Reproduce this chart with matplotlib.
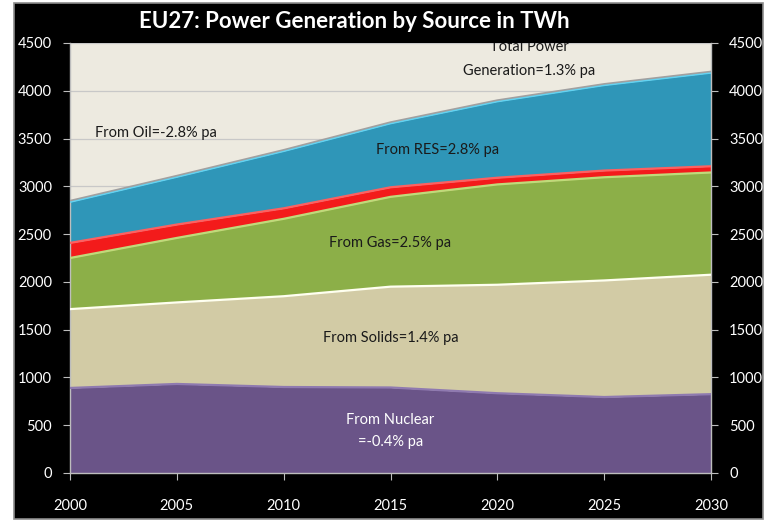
import matplotlib
matplotlib.use('Agg')
import matplotlib.pyplot as plt
import matplotlib.patches as mpatches
import numpy as np

# DATA (TWh)
years = [2000, 2005, 2010, 2015, 2020, 2025, 2030]
nuclear = [890, 932, 900, 895, 835, 795, 825]
solids = [825, 853, 950, 1055, 1135, 1220, 1250]
gas = [535, 675, 810, 940, 1050, 1080, 1070]
oil = [158, 140, 110, 100, 70, 70, 65]
res = [430, 500, 600, 670, 800, 895, 980]
yticks = [0, 500, 1000, 1500, 2000, 2500, 3000, 3500, 4000, 4500]

plt.rcParams['font.family'] = ['Lato', 'DejaVu Sans']

fig = plt.figure(figsize=(7.69, 5.26), dpi=100, facecolor='white')
fig.patches.append(mpatches.Rectangle((14 / 769, 1 - 519 / 526), 749 / 769, 516 / 526,
                                      transform=fig.transFigure, facecolor='black',
                                      edgecolor='#8C8C8C', linewidth=1.2, zorder=-5))

ax = fig.add_axes([70 / 769, 1 - 473 / 526, 641 / 769, 430 / 526])
ax.set_facecolor('#EDEAE0')

fills = ['#6A5488', '#D2CBA5', '#8CAF48', '#F31B1B', '#2F96B8']
edges = ['#8F7AB0', '#FFFFF0', '#BFDB7A', '#FF6060', '#63D3F2']
series = [nuclear, solids, gas, oil, res]

bottom = np.zeros(len(years))
for vals, fc, ec in zip(series, fills, edges):
    top = bottom + np.array(vals)
    ax.fill_between(years, bottom, top, color=fc, linewidth=0, zorder=2)
    ax.plot(years, top, color=ec, linewidth=1.6, zorder=3)
    bottom = top
ax.plot(years, bottom + 12, color='#A0A0A0', linewidth=1.2, zorder=3)

ax.set_xlim(2000, 2030)
ax.set_ylim(0, 4500)
ax.set_xticks(years)
ax.set_yticks(yticks)
ax.yaxis.grid(True, color='#C8C8C8', linewidth=0.9, zorder=1)
ax.set_axisbelow(True)

ax.spines['top'].set_visible(False)
for s in ['left', 'bottom', 'right']:
    ax.spines[s].set_color('#BDBDBD')
    ax.spines[s].set_linewidth(1.0)

ax.tick_params(axis='both', colors='#BDBDBD', labelcolor='white', labelsize=10.5,
               direction='out', length=5)
ax.tick_params(axis='y', left=True, right=True, labelleft=True, labelright=True, pad=8)
ax.tick_params(axis='x', pad=14)

# Labels inside the areas
tc = '#1A1A1A'
fs = 10.5
ax.text(2004.0, 3560, 'From Oil=-2.8% pa', fontsize=fs, color=tc, ha='center', va='center', zorder=5)
ax.text(2021.5, 4335, 'Total Power\nGeneration=1.3% pa', fontsize=fs, color=tc,
        ha='center', va='center', linespacing=1.95, zorder=5, clip_on=True)
ax.text(2017.2, 3382, 'From RES=2.8% pa', fontsize=fs, color=tc, ha='center', va='center', zorder=5)
ax.text(2015.0, 2408, 'From Gas=2.5% pa', fontsize=fs, color=tc, ha='center', va='center', zorder=5)
ax.text(2015.0, 1413, 'From Solids=1.4% pa', fontsize=fs, color=tc, ha='center', va='center', zorder=5)
ax.text(2015.0, 440, 'From Nuclear\n=-0.4% pa', fontsize=fs, color='white',
        ha='center', va='center', linespacing=1.8, zorder=5)

fig.text(354 / 769, 1 - 21 / 526, 'EU27: Power Generation by Source in TWh',
         fontsize=16, fontweight='bold', color='white', ha='center', va='center')

fig.savefig('out.png', dpi=100, facecolor='white')
